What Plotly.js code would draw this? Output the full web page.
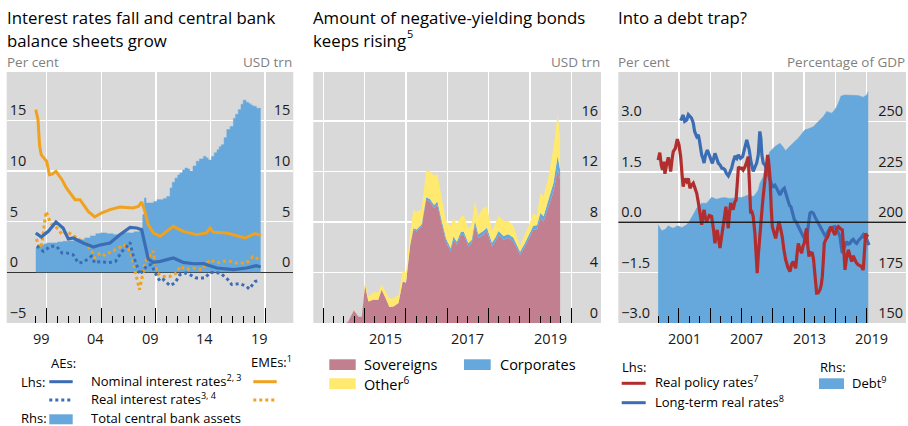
<!DOCTYPE html>
<html><head><meta charset="utf-8">
<script src="https://cdn.plot.ly/plotly-3.0.1.min.js"></script>
<style>html,body{margin:0;padding:0;background:#fff}#chart{width:908px;height:426px}</style>
</head><body><div id="chart"></div>
<script>
// ---------- Panel 1: Interest rates and central bank assets ----------
const p1GridYears = [2000, 2005, 2010, 2015, 2020];
const p1LabelYears = [1999.5, 2004.5, 2009.5, 2014.5, 2019.5];
const p1TickLabels = ['99', '04', '09', '14', '19'];

const aeNomT = [1999.0,1999.5,2000.15,2000.85,2001.5,2001.98,2002.44,2003.35,2004.27,2004.9,2005.8,2006.7,2007.63,2008.25,2008.7,2009.0,2009.3,2009.77,2010.4,2011.6,2012.5,2013.5,2014.35,2015.6,2017.1,2018.3,2019.2,2019.6];
const aeNom  = [3.89,3.49,4.05,4.97,4.38,3.3,3.39,2.9,2.5,2.7,2.9,3.72,4.44,4.38,4.2,2.57,1.32,0.99,1.09,1.42,0.99,0.85,0.86,0.43,0.27,0.43,0.66,0.53];

const emeNomT = [1999.0,1999.1,1999.2,1999.35,1999.5,2000.0,2000.25,2000.5,2000.85,2001.4,2001.8,2002.6,2003.05,2003.8,2004.4,2005.0,2005.8,2006.7,2007.9,2008.4,2008.7,2009.0,2009.3,2009.77,2010.4,2011.6,2012.5,2013.7,2014.66,2014.96,2015.27,2016.5,2017.4,2018.17,2019.08,2019.63];
const emeNom  = [16.06,15.5,15.1,12.5,11.6,10.96,9.64,9.7,9.97,9.15,8.33,7.18,7.18,6.02,5.47,5.86,6.19,6.45,6.35,6.5,6.95,6.0,4.7,3.9,3.56,4.54,4.05,3.72,3.89,4.38,3.95,3.89,3.62,3.39,3.82,3.65];

const aeRealT = [1999.1,1999.4,1999.7,2000.0,2000.3,2000.9,2001.4,2001.8,2002.4,2002.9,2003.35,2004.1,2004.4,2005.0,2005.6,2006.3,2006.9,2007.3,2007.63,2007.9,2008.25,2008.55,2008.85,2009.3,2009.6,2010.1,2010.4,2010.7,2011.3,2011.75,2012.2,2012.8,2013.7,2014.5,2014.96,2015.9,2016.6,2016.95,2017.7,2018.3,2018.55,2019.1,2019.55];
const aeReal  = [2.6,2.3,2.07,2.3,2.57,2.57,1.92,1.92,1.75,0.93,0.99,1.58,0.93,1.09,0.93,1.09,2.07,2.5,2.96,1.75,0.6,-0.23,0.27,0.76,0.76,-0.4,-0.89,-0.72,-1.31,-1.05,-0.23,-0.06,-0.55,-0.55,0.0,-0.06,-0.72,-1.2,-1.12,-1.38,-1.64,-0.89,-0.79];

const emeRealT = [1999.05,1999.25,1999.45,1999.65,1999.8,1999.95,2000.1,2000.3,2000.55,2000.8,2001.1,2001.4,2001.8,2002.3,2002.7,2003.05,2003.5,2003.8,2004.1,2004.4,2004.9,2005.3,2005.6,2006.0,2006.26,2006.6,2007.0,2007.5,2007.8,2008.1,2008.3,2008.5,2008.7,2009.0,2009.3,2009.6,2009.75,2009.9,2010.1,2010.4,2010.7,2011.3,2011.9,2012.2,2012.8,2013.4,2014.2,2014.96,2015.6,2016.2,2016.8,2017.4,2018.3,2018.9,2019.2,2019.5];
const emeReal  = [3.3,2.7,2.4,3.5,4.9,6.0,5.6,5.0,4.6,4.5,4.2,3.72,4.05,3.72,3.4,3.23,2.9,2.57,2.2,1.42,1.92,1.7,1.92,2.0,2.24,2.4,2.73,2.41,1.58,0.1,-0.89,-1.7,-0.72,0.93,1.58,1.75,2.1,1.25,0.0,-0.3,-0.4,-0.4,-0.06,0.6,0.27,0.43,0.27,1.25,0.93,1.09,1.09,0.93,0.93,1.58,1.42,1.25];

const cbT = [1999.0,1999.25,1999.5,1999.75,2000.0,2000.5,2001.0,2001.5,2002.0,2002.5,2003.0,2003.5,2004.0,2004.5,2004.9,2005.5,2006.1,2006.6,2007.1,2007.6,2008.0,2008.5,2008.7,2008.8,2008.95,2009.1,2009.46,2009.8,2010.1,2010.4,2010.7,2011.0,2011.3,2011.5,2011.75,2012.0,2012.2,2012.45,2012.67,2012.9,2013.1,2013.4,2013.7,2014.0,2014.35,2014.6,2014.8,2015.1,2015.35,2015.6,2015.8,2016.0,2016.25,2016.5,2016.8,2017.1,2017.3,2017.55,2017.8,2018.0,2018.25,2018.5,2018.7,2018.9,2019.2,2019.6];
const cbAssets = [2.4,2.6,2.7,2.8,2.9,2.9,3.0,3.06,3.1,3.2,3.23,3.4,3.6,3.8,3.89,3.8,3.72,3.8,3.9,3.89,4.0,4.05,4.4,5.7,7.35,6.85,6.85,7.0,7.18,7.18,7.3,7.5,8.33,8.9,9.3,9.6,9.8,10.1,10.3,10.2,10.0,10.5,10.96,11.2,11.45,11.3,11.1,11.45,11.8,12.1,12.4,12.6,13.3,14.1,14.4,15.2,15.6,16.06,16.6,17.0,16.8,16.65,16.5,16.4,16.2,16.15];

// ---------- Panel 2: Negative-yielding bonds (USD trn) ----------
const p2GridYears = [2014, 2015, 2016, 2017, 2018, 2019, 2020];
const p2LabelYears = [2015.5, 2017.5, 2019.5];
const p2TickLabels = ['2015', '2017', '2019'];
const bondT = [2014.55,2014.6,2014.74,2014.85,2014.93,2015.01,2015.09,2015.21,2015.33,2015.41,2015.49,2015.6,2015.7,2015.82,2015.92,2016.0,2016.1,2016.18,2016.26,2016.38,2016.49,2016.58,2016.68,2016.76,2016.87,2016.97,2017.08,2017.15,2017.23,2017.33,2017.4,2017.51,2017.59,2017.67,2017.75,2017.87,2017.96,2018.08,2018.16,2018.24,2018.36,2018.48,2018.6,2018.76,2018.88,2019.0,2019.08,2019.17,2019.25,2019.33,2019.45,2019.57,2019.67,2019.73];
const sovereigns = [0,0.1,1.0,0.5,0.5,3.0,1.7,1.84,1.84,2.63,2.1,1.26,1.3,1.58,3.29,3.16,6.06,7.38,7.25,7.64,9.75,9.62,9.09,9.36,7.78,6.45,5.66,6.59,6.19,6.98,6.98,6.06,6.32,7.78,6.72,6.98,7.25,6.06,6.45,6.98,6.59,6.72,6.45,5.4,6.06,6.85,7.38,7.38,8.3,8.04,9.22,10.41,12.13,11.34];
const corporates = [0,0,0,0,0,0,0,0,0,0,0,0,0,0,0,0.05,0.1,0.12,0.15,0.18,0.2,0.2,0.25,0.25,0.25,0.25,0.25,0.25,0.25,0.25,0.25,0.25,0.25,0.3,0.3,0.3,0.3,0.3,0.3,0.3,0.3,0.3,0.3,0.25,0.28,0.3,0.32,0.35,0.4,0.42,0.5,0.7,1.1,0.8];
const other = [0,0,0.05,0,0,0.3,0.4,0.6,0.6,0.4,0.5,0.7,0.65,0.65,0.87,0.75,1.0,1.45,1.4,1.2,2.1,2.2,2.3,2.2,1.8,1.35,1.75,1.45,1.35,1.2,1.3,1.15,1.2,1.55,1.45,1.85,1.7,0.95,1.1,1.2,1.2,1.05,0.95,0.45,0.7,0.75,1.0,0.8,1.6,1.55,1.9,2.8,3.3,2.6];

// ---------- Panel 3: Debt trap ----------
const p3GridYears = [2001, 2004, 2007, 2010, 2013, 2016, 2019];
const p3LabelYears = [2001.5, 2007.5, 2013.5, 2019.5];
const p3TickLabels = ['2001', '2007', '2013', '2019'];
const policyT = [1999.0,1999.16,1999.3,1999.42,1999.55,1999.65,1999.8,1999.97,2000.1,2000.2,2000.35,2000.45,2000.65,2000.84,2001.0,2001.16,2001.3,2001.4,2001.55,2001.74,2001.9,2002.05,2002.2,2002.37,2002.55,2002.7,2002.85,2003.0,2003.18,2003.3,2003.4,2003.55,2003.65,2003.9,2004.13,2004.3,2004.45,2004.55,2004.67,2004.8,2004.93,2005.1,2005.25,2005.4,2005.5,2005.62,2005.73,2005.85,2005.96,2006.1,2006.2,2006.35,2006.47,2006.6,2006.7,2006.85,2007.0,2007.15,2007.33,2007.5,2007.64,2007.75,2007.87,2008.0,2008.12,2008.28,2008.4,2008.5,2008.6,2008.77,2008.9,2009.02,2009.24,2009.5,2009.6,2009.72,2009.85,2009.95,2010.1,2010.27,2010.45,2010.59,2010.75,2010.9,2011.05,2011.23,2011.45,2011.64,2011.8,2011.96,2012.1,2012.19,2012.3,2012.44,2012.6,2012.76,2012.9,2013.01,2013.15,2013.24,2013.35,2013.46,2013.6,2013.78,2013.9,2013.97,2014.1,2014.2,2014.35,2014.52,2014.65,2014.74,2014.85,2014.93,2015.1,2015.26,2015.4,2015.57,2015.75,2015.96,2016.1,2016.28,2016.5,2016.66,2016.8,2016.92,2017.05,2017.24,2017.4,2017.56,2017.7,2017.87,2018.0,2018.19,2018.4,2018.55,2018.67,2018.8,2018.9,2019.0,2019.15];
const policyRates = [1.85,2.07,1.7,1.56,1.8,1.44,1.7,1.93,1.75,1.51,1.9,2.1,2.2,2.47,2.3,1.95,1.4,1.06,1.3,1.21,1.3,1.01,1.1,1.16,1.0,0.86,0.6,0.27,-0.08,0.2,0.37,0.1,0.02,0.2,0.17,-0.2,-0.63,-0.4,-0.23,-0.5,-0.77,-0.4,-0.03,0.3,0.46,0.1,-0.18,0.3,0.57,0.45,0.37,0.6,0.66,1.2,1.65,1.6,1.61,1.55,1.65,1.8,1.95,1.2,0.27,0.3,0.17,-0.33,-1.0,-1.52,-1.0,-0.33,0.4,0.6,1.26,2.0,1.8,1.36,0.4,-0.13,-0.3,-0.48,-0.2,0.02,-0.2,-0.43,-0.8,-1.12,-1.35,-1.47,-1.25,-1.17,-1.3,-1.37,-1.0,-0.63,-0.8,-0.92,-0.7,-0.63,-0.3,-0.18,-0.7,-1.02,-0.9,-0.92,-1.1,-1.32,-1.9,-2.11,-2.1,-2.01,-1.85,-1.62,-1.1,-0.63,-0.5,-0.43,-0.3,-0.13,-0.25,-0.38,-0.2,-0.13,-0.2,-0.23,-0.8,-1.42,-1.1,-0.82,-1.0,-1.17,-1.0,-1.12,-1.2,-1.27,-1.3,-1.35,-1.42,-0.8,-0.33,-0.4,-0.43];
const longT = [2001.16,2001.3,2001.4,2001.55,2001.74,2001.9,2002.05,2002.2,2002.37,2002.5,2002.7,2002.85,2002.95,2003.05,2003.18,2003.3,2003.4,2003.55,2003.72,2003.9,2004.04,2004.2,2004.45,2004.6,2004.77,2004.95,2005.1,2005.25,2005.4,2005.55,2005.73,2005.9,2006.05,2006.2,2006.37,2006.55,2006.69,2006.9,2007.1,2007.3,2007.5,2007.62,2007.74,2007.9,2008.12,2008.3,2008.45,2008.6,2008.75,2008.85,2008.95,2009.08,2009.25,2009.4,2009.55,2009.72,2009.9,2010.04,2010.2,2010.37,2010.5,2010.68,2010.9,2011.1,2011.3,2011.48,2011.6,2011.74,2011.9,2012.06,2012.25,2012.44,2012.7,2012.92,2013.1,2013.24,2013.4,2013.56,2013.7,2013.88,2014.05,2014.2,2014.45,2014.68,2014.9,2015.06,2015.25,2015.48,2015.7,2015.96,2016.2,2016.44,2016.55,2016.66,2016.85,2017.08,2017.25,2017.4,2017.55,2017.71,2017.9,2018.04,2018.2,2018.35,2018.5,2018.67,2018.8,2018.9,2019.05,2019.22];
const longRates = [3.02,3.15,3.19,3.0,3.04,3.2,3.16,3.1,2.95,2.7,2.55,2.6,2.45,2.2,2.0,1.9,1.76,2.0,2.15,2.0,1.9,1.75,2.05,1.9,1.76,1.7,1.61,1.6,1.56,1.45,1.38,1.5,1.61,1.8,1.97,1.9,2.0,1.9,1.95,2.2,2.45,2.3,2.15,1.8,1.51,1.65,1.76,2.0,2.7,2.5,2.0,1.76,1.7,1.56,1.45,1.26,1.1,1.06,1.1,1.01,0.9,0.81,0.95,1.01,0.8,0.57,0.5,0.46,0.25,0.07,0.0,-0.13,-0.3,-0.43,-0.5,-0.53,-0.1,0.27,0.3,0.27,0.15,0.07,-0.1,-0.23,-0.35,-0.43,-0.3,-0.18,-0.15,-0.13,-0.25,-0.43,-0.7,-0.92,-0.75,-0.58,-0.65,-0.63,-0.55,-0.51,-0.6,-0.63,-0.55,-0.48,-0.45,-0.38,-0.45,-0.43,-0.55,-0.68];
const debtT = [1999.0,1999.34,1999.7,1999.97,2000.2,2000.45,2000.7,2000.93,2001.26,2001.5,2001.74,2002.0,2002.2,2002.45,2002.7,2002.95,2003.18,2003.66,2003.9,2004.13,2004.6,2005.0,2005.4,2005.8,2006.2,2006.6,2007.0,2007.3,2007.64,2008.12,2008.35,2008.6,2008.76,2009.08,2009.24,2009.5,2009.72,2010.2,2010.68,2010.95,2011.23,2011.5,2011.8,2012.1,2012.44,2012.75,2013.08,2013.5,2013.88,2014.36,2014.84,2015.17,2015.4,2015.65,2015.9,2016.13,2016.35,2016.54,2016.92,2017.56,2018.19,2018.67,2019.0,2019.15];
const debt = [198.7,195.8,196.5,198.2,197.5,197.0,197.8,198.2,197.3,198.0,198.7,200.5,202,204.5,207,208.5,209.4,209.4,211,212.4,211.4,212,212.2,211.8,211.9,212.4,212.2,212.8,213.5,212.7,214,216,219.3,222.6,227.6,232,235,237.5,239.2,237.5,235.5,237,238.3,240,241.7,243.5,245.8,246.5,247.4,249.9,252.4,254.9,254.5,254.1,255.5,257.3,260,262.6,263.1,263,262.8,262,263.1,264.8];

// ---------- styling ----------
const FONT = '"Open Sans", sans-serif';
const BG = '#d9d9d9';
const AREA_BLUE = '#66a8dc';
const LINE_BLUE = '#3b6db4';
const ORANGE = '#f0a11e';
const RED = '#b22e2e';
const PINK = '#c27f8f';
const YELLOW = '#ffe96e';
const W = 908, H = 426;
const X = px => px / W, Y = py => 1 - py / H;
const yDom = [Y(323), Y(72)];
const seq = (a, b, s) => { const r = []; for (let v = a; v <= b + 1e-9; v += s) r.push(+v.toFixed(4)); return r; };
const tickFont = {family: FONT, size: 14.5, color: '#1a1a1a'};

const traces = [
  {x: cbT, y: cbAssets, type: 'scatter', mode: 'lines', fill: 'tozeroy', fillcolor: AREA_BLUE, line: {color: AREA_BLUE, width: 0.5, shape: 'hv'}, xaxis: 'x', yaxis: 'y'},
  {x: emeNomT, y: emeNom, type: 'scatter', mode: 'lines', line: {color: ORANGE, width: 3}, xaxis: 'x', yaxis: 'y2'},
  {x: emeRealT, y: emeReal, type: 'scatter', mode: 'lines', line: {color: ORANGE, width: 3, dash: 'dot'}, xaxis: 'x', yaxis: 'y2'},
  {x: aeRealT, y: aeReal, type: 'scatter', mode: 'lines', line: {color: LINE_BLUE, width: 3, dash: 'dot'}, xaxis: 'x', yaxis: 'y2'},
  {x: aeNomT, y: aeNom, type: 'scatter', mode: 'lines', line: {color: LINE_BLUE, width: 3.2}, xaxis: 'x', yaxis: 'y2'},

  {x: bondT, y: sovereigns, type: 'scatter', mode: 'lines', stackgroup: 'b', fillcolor: PINK, line: {width: 0, color: PINK}, xaxis: 'x2', yaxis: 'y3'},
  {x: bondT, y: corporates, type: 'scatter', mode: 'lines', stackgroup: 'b', fillcolor: AREA_BLUE, line: {width: 0, color: AREA_BLUE}, xaxis: 'x2', yaxis: 'y3'},
  {x: bondT, y: other, type: 'scatter', mode: 'lines', stackgroup: 'b', fillcolor: YELLOW, line: {width: 0, color: YELLOW}, xaxis: 'x2', yaxis: 'y3'},

  {x: debtT, y: debt, type: 'scatter', mode: 'lines', fill: 'tozeroy', fillcolor: AREA_BLUE, line: {color: AREA_BLUE, width: 0.5}, xaxis: 'x3', yaxis: 'y4'},
  {x: longT, y: longRates, type: 'scatter', mode: 'lines', line: {color: LINE_BLUE, width: 3.2}, xaxis: 'x3', yaxis: 'y5'},
  {x: policyT, y: policyRates, type: 'scatter', mode: 'lines', line: {color: RED, width: 3.2}, xaxis: 'x3', yaxis: 'y5'}
];

// x axis: gridlines + tall ticks at gridYears, short ticks at minorVals; year labels are added below, centred in each year
function xAxis(dom, rng, gridVals, minorVals, anchor) {
  return {domain: dom, range: rng, anchor: anchor, tickmode: 'array', tickvals: gridVals, showticklabels: false,
    ticks: 'inside', ticklen: 15, tickwidth: 1, tickcolor: '#000', showgrid: true, gridcolor: '#fff', gridwidth: 1.5,
    zeroline: false, showline: false,
    minor: {tickmode: 'array', tickvals: minorVals, ticks: 'inside', ticklen: 7, tickwidth: 1, tickcolor: '#000', showgrid: false},
    fixedrange: true};
}
function yAxis(rng, tv, side, anchor, grid, extra) {
  return Object.assign({domain: yDom, range: rng, anchor: anchor, side: side, tickmode: 'array', tickvals: tv,
    ticks: '', showgrid: grid, gridcolor: '#fff', gridwidth: 1.5, zeroline: false, showline: false,
    ticklabelposition: 'inside top', tickfont: tickFont, fixedrange: true}, extra || {});
}

const layout = {
  width: W, height: H, margin: {l: 0, r: 0, t: 0, b: 0}, paper_bgcolor: '#fff', plot_bgcolor: BG,
  showlegend: false, font: {family: FONT, color: '#000'},
  xaxis: xAxis([X(6.7), X(293.3)], [1996.335, 2022.59], p1GridYears, seq(1999, 2020, 1), 'y'),
  yaxis: yAxis([-5, 19.78], [0, 5, 10, 15], 'right', 'x', true),
  yaxis2: yAxis([-5, 19.78], [-5, 0, 5, 10, 15], 'left', 'x', false, {overlaying: 'y', zeroline: true, zerolinecolor: '#333', zerolinewidth: 1.5}),
  xaxis2: xAxis([X(313.3), X(601)], [2013.758, 2020.719], p2GridYears, seq(2013.75, 2020, 0.25), 'y3'),
  yaxis3: yAxis([0, 19.87], [0, 4, 8, 12, 16], 'right', 'x2', true),
  xaxis3: xAxis([X(618.3), X(906)], [1995.18, 2022.77], p3GridYears, seq(1999, 2019, 1), 'y4'),
  yaxis4: yAxis([150, 274.5], [150, 175, 200, 225, 250], 'right', 'x3', true),
  yaxis5: yAxis([-3, 4.47], [-3, -1.5, 0, 1.5, 3], 'left', 'x3', false, {overlaying: 'y4', tickformat: '.1f'}),
  shapes: [], annotations: []
};

// zero line in panel 3 drawn above the debt area
layout.shapes.push({type: 'line', xref: 'x3 domain', x0: 0, x1: 1, yref: 'y5', y0: 0, y1: 0, line: {color: '#222', width: 1.5}, layer: 'above'});

// year labels, placed through each panel's x scale
function yearLabels(xref, vals, labels) {
  vals.forEach((v, i) => layout.annotations.push({text: labels[i], xref: xref, yref: 'paper', x: v, y: Y(338),
    xanchor: 'center', yanchor: 'middle', showarrow: false, font: tickFont, borderpad: 0}));
}
yearLabels('x', p1LabelYears, p1TickLabels);
yearLabels('x2', p2LabelYears, p2TickLabels);
yearLabels('x3', p3LabelYears, p3TickLabels);

function txt(text, px, py, size, color, anchor) {
  layout.annotations.push({text: text, xref: 'paper', yref: 'paper', x: X(px), y: Y(py), xanchor: anchor || 'left', yanchor: 'middle',
    showarrow: false, font: {family: FONT, size: size, color: color || '#000'}, borderpad: 0, align: 'left'});
}
// titles
txt('Interest rates fall and central bank', 6, 18, 16.8);
txt('balance sheets grow', 6, 40, 16.8);
txt('Amount of negative-yielding bonds', 312, 18, 16.8);
txt('keeps rising', 312, 40, 16.8);
txt('5', 405.5, 33, 11);
txt('Into a debt trap?', 617, 18, 16.8);
// units
const GREY = '#7f7f7f';
txt('Per cent', 6, 62, 13.5, GREY);
txt('USD trn', 293, 62, 13.5, GREY, 'right');
txt('USD trn', 601, 62, 13.5, GREY, 'right');
txt('Per cent', 617, 62, 13.5, GREY);
txt('Percentage of GDP', 906, 62, 13.5, GREY, 'right');

// legend panel 1
txt('AEs:', 50, 363, 13);
txt('EMEs:<sup>1</sup>', 250, 361, 13);
txt('Lhs:', 20, 381.7, 13);
txt('Nominal interest rates<sup>2, 3</sup>', 90, 380, 13);
txt('Real interest rates<sup>3, 4</sup>', 90, 398.5, 13);
txt('Rhs:', 20, 418.3, 13);
txt('Total central bank assets', 90, 418.3, 13);
function lineSw(x0, x1, py, color, dash) {
  layout.shapes.push({type: 'line', xref: 'paper', yref: 'paper', x0: X(x0), x1: X(x1), y0: Y(py), y1: Y(py), line: {color: color, width: 3, dash: dash || 'solid'}});
}
function boxSw(x0, x1, y0, y1, color) {
  layout.shapes.push({type: 'rect', xref: 'paper', yref: 'paper', x0: X(x0), x1: X(x1), y0: Y(y1), y1: Y(y0), fillcolor: color, line: {width: 0}});
}
lineSw(49.3, 72.7, 381.7, LINE_BLUE);
lineSw(49.3, 72.7, 400, LINE_BLUE, 'dot');
lineSw(253.3, 276.7, 381.7, ORANGE);
lineSw(253.3, 276.7, 400, ORANGE, 'dot');
boxSw(49.3, 72.7, 414.3, 424.3, AREA_BLUE);
// legend panel 2
boxSw(329.3, 355.7, 359.3, 370, PINK);
boxSw(464, 490.7, 359.3, 370, AREA_BLUE);
boxSw(329.3, 355.7, 378.3, 389, YELLOW);
txt('Sovereigns', 363, 364.7, 14.5);
txt('Corporates', 498.5, 364.7, 14.5);
txt('Other<sup>6</sup>', 363, 383, 14.5);
// legend panel 3
txt('Lhs:', 621, 366.7, 13);
txt('Rhs:', 818.5, 366.7, 13);
lineSw(621.7, 645.7, 383.3, RED);
lineSw(621.7, 645.7, 402.7, LINE_BLUE);
boxSw(819, 844, 378.3, 389, AREA_BLUE);
txt('Real policy rates<sup>7</sup>', 653.5, 381.7, 13);
txt('Long-term real rates<sup>8</sup>', 653.5, 401, 13);
txt('Debt<sup>9</sup>', 851, 382, 13);

Plotly.newPlot('chart', traces, layout, {displayModeBar: false, staticPlot: true});
</script></body></html>
